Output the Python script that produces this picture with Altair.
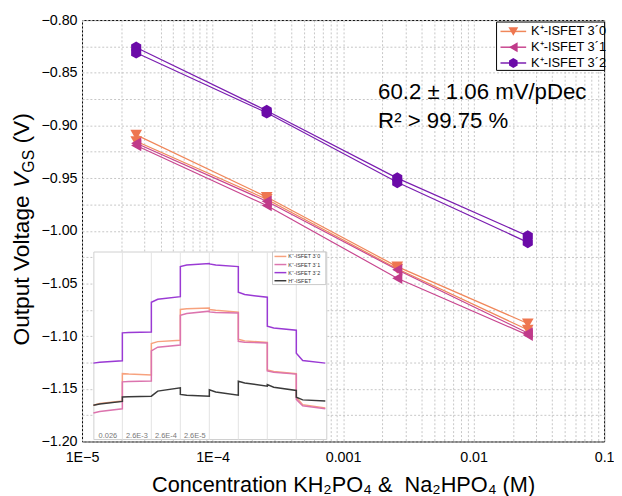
import altair as alt
import pandas as pd

FONT = "Liberation Sans"

# ---------------- main data ----------------
conc = [2.6e-5, 2.6e-4, 2.6e-3, 2.6e-2]
series = ["K⁺-ISFET 3´0", "K⁺-ISFET 3´1", "K⁺-ISFET 3´2"]
v30_run1 = [-0.909, -0.968, -1.034, -1.088]
v30_run2 = [-0.915, -0.970, -1.036, -1.094]
v31_run1 = [-0.917, -0.972, -1.037, -1.097]
v31_run2 = [-0.919, -0.976, -1.045, -1.099]
v32_run1 = [-0.826, -0.886, -0.950, -1.005]
v32_run2 = [-0.831, -0.888, -0.954, -1.011]

x_labels = ["1E−5", "1E−4", "0.001", "0.01", "0.1"]
x_grid = [m * 10.0 ** e for e in range(-5, -1) for m in range(1, 10)] + [0.1]
y_grid = [round(-1.2 + 0.025 * i, 3) for i in range(17)]

annot1 = "60.2 ± 1.06 mV/pDec"
annot2 = "R² > 99.75 %"

# ---------------- inset data ----------------
inset_names = ["K⁺-ISFET 3´0", "K⁺-ISFET 3´1", "K⁺-ISFET 3´2", "H⁺-ISFET"]
inset_steps = ["0.026", "2.6E-3", "2.6E-4", "2.6E-5"]
orange_start = [-1.1656, -1.1356, -1.1070, -1.0747, -1.0747, -1.1030, -1.1320, -1.1580]
orange_q = [-1.1640, -1.1360, -1.1052, -1.0740, -1.0755, -1.1045, -1.1335, -1.1650]
orange_end = [-1.1616, -1.1369, -1.1040, -1.0734, -1.0772, -1.1060, -1.1356, -1.1681]
pink_start = [-1.1730, -1.1434, -1.1140, -1.0803, -1.0770, -1.1050, -1.1330, -1.1600]
pink_q = [-1.1715, -1.1430, -1.1105, -1.0785, -1.0775, -1.1058, -1.1342, -1.1660]
pink_end = [-1.1690, -1.1425, -1.1084, -1.0763, -1.0780, -1.1065, -1.1360, -1.1690]
purple_start = [-1.1256, -1.0969, -1.0678, -1.0340, -1.0315, -1.0584, -1.0906, -1.1163]
purple_q = [-1.1248, -1.0966, -1.0650, -1.0325, -1.0325, -1.0605, -1.0922, -1.1231]
purple_end = [-1.1234, -1.0960, -1.0625, -1.0310, -1.0340, -1.0631, -1.0944, -1.1256]
black_start = [-1.1656, -1.1578, -1.1570, -1.1553, -1.1510, -1.1428, -1.1460, -1.1580]
black_q = [-1.1645, -1.1575, -1.1522, -1.1560, -1.1530, -1.1445, -1.1485, -1.1605]
black_end = [-1.1620, -1.1570, -1.1490, -1.1570, -1.1560, -1.1475, -1.1516, -1.1616]

# ---------------- styles ----------------
line_colors = ["#F0875A", "#C8468F", "#7A1DB0"]
marker_colors = ["#EE7650", "#C03A8A", "#6B0AA8"]
hexagon = "M0,-1L0.866,-0.5L0.866,0.5L0,1L-0.866,0.5L-0.866,-0.5Z"
shapes = ["triangle-down", "triangle-left", hexagon]
inset_colors = ["#F7A27E", "#DC74AE", "#9A3AD4", "#3A3A3A"]

# ---------------- tables ----------------
rows = []
runs = {series[0]: [v30_run1, v30_run2], series[1]: [v31_run1, v31_run2], series[2]: [v32_run1, v32_run2]}
for s, rl in runs.items():
    for r, vals in enumerate(rl):
        for c, v in zip(conc, vals):
            rows.append({"series": s, "run": f"{s}-{r}", "conc": c, "V": v})
main_df = pd.DataFrame(rows)

inset_rows = []
for name, (st, qq, en) in zip(inset_names, [(orange_start, orange_q, orange_end),
                                           (pink_start, pink_q, pink_end),
                                           (purple_start, purple_q, purple_end),
                                           (black_start, black_q, black_end)]):
    i = 0
    for k in range(8):
        for t, v in [(k, st[k]), (k + 0.22, qq[k]), (k + 1, en[k])]:
            inset_rows.append({"series": name, "t": t, "v": v, "i": i})
            i += 1
inset_df = pd.DataFrame(inset_rows)

# ---------------- main layers ----------------
grid_kw = dict(grid=True, gridDash=[2, 2], gridColor="#c6c6c6", gridWidth=1, ticks=False, domain=False,
               labelFontSize=14.5, labelColor="black", labelFont=FONT, labelOverlap=False,
               labelFlush=False, labelBound=False)
x_label_arr = "[" + ",".join("'" + s + "'" for s in x_labels) + "]"
x_enc = alt.X("conc:Q", scale=alt.Scale(type="log", domain=[1e-5, 0.1], nice=False),
              axis=alt.Axis(values=x_grid, tickCount=len(x_grid) + 5,
                            labelExpr="abs(log(datum.value)/LN10 - round(log(datum.value)/LN10)) > 0.001 ? '' : "
                                      + x_label_arr + "[round(log(datum.value)/LN10) + 5]",
                            title="Concentration KH₂PO₄ & \u00a0Na₂HPO₄ (M)", titleFontSize=22,
                            titleFont=FONT, titleFontWeight="normal", titleColor="black",
                            labelPadding=9, titlePadding=11, **grid_kw))
y_scale = alt.Scale(domain=[-1.2, -0.8], nice=False, zero=False)
y_enc = alt.Y("V:Q", scale=y_scale,
              axis=alt.Axis(values=y_grid, tickCount=len(y_grid) + 5, title=None, labelPadding=5,
                            labelExpr="abs(datum.value*20 - round(datum.value*20)) > 0.001 ? '' : format(datum.value, '.2f')",
                            **grid_kw))

lines = alt.Chart(main_df).mark_line(strokeWidth=1.2).encode(
    x=x_enc, y=y_enc,
    color=alt.Color("series:N", scale=alt.Scale(domain=series, range=line_colors), legend=None),
    detail="run:N")
points = alt.Chart(main_df).mark_point(filled=True, size=140, opacity=1).encode(
    x="conc:Q", y="V:Q",
    fill=alt.Fill("series:N", scale=alt.Scale(domain=series, range=marker_colors), legend=None),
    shape=alt.Shape("series:N", scale=alt.Scale(domain=series, range=shapes), legend=None))

one = pd.DataFrame({"a": [0]})
main_layers = [lines, points]
main_layers.append(alt.Chart(one).mark_text(align="left", baseline="alphabetic", fontSize=22.5, font=FONT,
                                            color="black", text=annot1).encode(x=alt.value(300), y=alt.value(80)))
main_layers.append(alt.Chart(one).mark_text(align="left", baseline="alphabetic", fontSize=22.5, font=FONT,
                                            color="black", text=annot2).encode(x=alt.value(300), y=alt.value(109)))

# legend box
main_layers.append(alt.Chart(one).mark_rect(fill="white", stroke="black", strokeWidth=1).encode(
    x=alt.value(420), x2=alt.value(529.5), y=alt.value(2), y2=alt.value(51)))
for i, s in enumerate(series):
    yy = 11.5 + 16 * i
    main_layers.append(alt.Chart(one).mark_rule(color=line_colors[i], strokeWidth=1.5).encode(
        x=alt.value(424), x2=alt.value(450), y=alt.value(yy)))
    main_layers.append(alt.Chart(one).mark_point(filled=True, size=100, opacity=1, shape=shapes[i],
                                                 fill=marker_colors[i]).encode(x=alt.value(437), y=alt.value(yy)))
    main_layers.append(alt.Chart(one).mark_text(align="left", baseline="middle", fontSize=13, font=FONT,
                                                color="black", text=s).encode(x=alt.value(455), y=alt.value(yy)))

# y title pieces (rotated)
ytitle = [("Output Voltage", 23, "normal", 329.7, -53.5),
          ("V", 23, "italic", 169.9, -53.5),
          ("GS", 16, "normal", 154.6, -48.5),
          ("(V)", 23, "normal", 125.1, -53.5)]
for txt, fs, style, yy, xx in ytitle:
    main_layers.append(alt.Chart(one).mark_text(angle=270, align="left", baseline="alphabetic", fontSize=fs,
                                                fontStyle=style, font=FONT, color="black", text=txt).encode(
        x=alt.value(xx), y=alt.value(yy)))

main = alt.layer(*main_layers)

# ---------------- inset layers ----------------
ix_scale = alt.Scale(domain=[0, 8], range=[11.5, 246.5], nice=False, zero=False)
iy_scale = alt.Scale(domain=[-1.2, -0.8], nice=False, zero=False)
inset_layers = []
inset_layers.append(alt.Chart(one).mark_rect(fill="white", stroke="#cfcfcf", strokeWidth=1).encode(
    x=alt.value(12), x2=alt.value(248), y=alt.value(235), y2=alt.value(425)))
grid_df = pd.DataFrame({"t": list(range(1, 8))})
inset_layers.append(alt.Chart(grid_df).mark_rule(color="#e3e3e3", strokeWidth=1).encode(
    x=alt.X("t:Q", scale=ix_scale, axis=None), y=alt.value(235), y2=alt.value(425)))
lab_df = pd.DataFrame({"t": [k + 0.5 for k in range(4)], "lab": inset_steps})
inset_layers.append(alt.Chart(lab_df).mark_text(fontSize=7.5, font=FONT, color="#777777", baseline="middle").encode(
    x=alt.X("t:Q", scale=ix_scale, axis=None), y=alt.value(421.5), text="lab:N"))
inset_layers.append(alt.Chart(inset_df).mark_line(strokeWidth=1.5).encode(
    x=alt.X("t:Q", scale=ix_scale, axis=None),
    y=alt.Y("v:Q", scale=iy_scale, axis=None),
    color=alt.Color("series:N", scale=alt.Scale(domain=inset_names, range=inset_colors), legend=None),
    order="i:Q"))
inset_layers.append(alt.Chart(one).mark_rect(fill="white", stroke="#bdbdbd", strokeWidth=0.8).encode(
    x=alt.value(193), x2=alt.value(247), y=alt.value(235), y2=alt.value(268)))
for i, s in enumerate(inset_names):
    yy = 239.5 + 8.2 * i
    inset_layers.append(alt.Chart(one).mark_rule(color=inset_colors[i], strokeWidth=1.5).encode(
        x=alt.value(195), x2=alt.value(207), y=alt.value(yy)))
    inset_layers.append(alt.Chart(one).mark_text(align="left", baseline="middle", fontSize=5.5, font=FONT,
                                                 color="#333333", text=s).encode(x=alt.value(209), y=alt.value(yy)))
inset = alt.layer(*inset_layers)

chart = alt.layer(main, inset).resolve_scale(x="independent", y="independent", color="independent").properties(
    width=529, height=427,
    padding={"left": 75, "top": 9, "right": 10, "bottom": 52},
    autosize=alt.AutoSizeParams(type="none"),
).configure(font=FONT).configure_view(stroke="black", strokeWidth=1)

chart.save("out.html", embed_options={"renderer": "svg", "actions": False})
